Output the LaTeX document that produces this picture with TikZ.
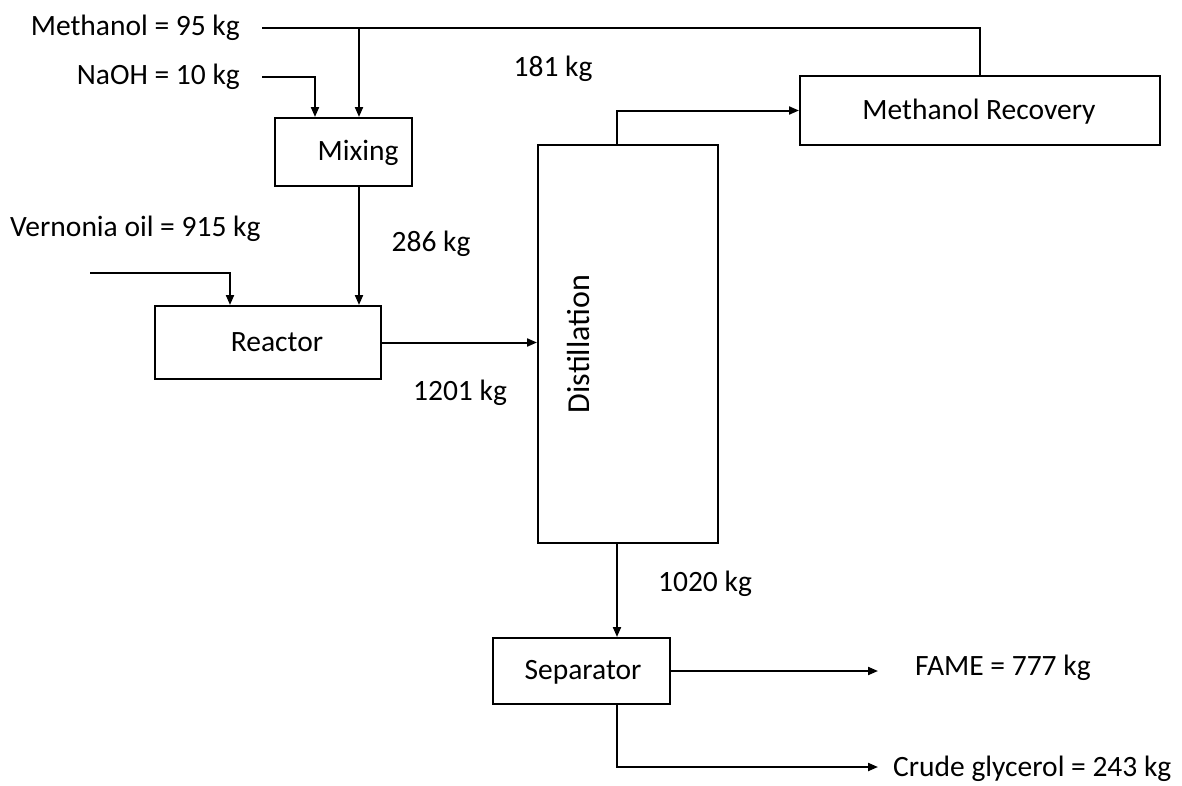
\documentclass[tikz,border=0pt]{standalone}
\usepackage{fontspec}
\setmainfont{Carlito}
\usetikzlibrary{arrows.meta}
\begin{document}
\begin{tikzpicture}[x=1pt,y=-1pt,
  every node/.style={font=\fontsize{29.5}{35}\selectfont, inner sep=0pt},
  unit/.style={draw, line width=2pt, minimum width=#1},
  arr/.style={-{Triangle[length=10pt,width=8pt]}, line width=2pt},
  ln/.style={line width=2pt}]
\useasboundingbox (0,0) rectangle (1182,785);
% boxes
\node[unit=137pt, minimum height=68pt] (mix) at (343.5,152) {};
\node[anchor=mid] (mixT) at (358,158) {Mixing};
\node[unit=226pt, minimum height=73pt] (rea) at (268,342.5) {};
\node[anchor=mid] (reaT) at (277,349) {Reactor};
\node[unit=180pt, minimum height=398pt] (dis) at (628,344) {};
\node[anchor=mid, rotate=90, font=\fontsize{32}{38}\selectfont] (disT) at (587,344) {Distillation};
\node[unit=360pt, minimum height=69pt] (mr) at (980,110.5) {};
\node[anchor=mid] (mrT) at (979,117) {Methanol Recovery};
\node[unit=177pt, minimum height=66pt] (sep) at (581.5,671) {};
\node[anchor=mid] (sepT) at (583,677) {Separator};
% coordinates
\coordinate (methIn) at (262,28);
\coordinate (j1) at (359,28);
\coordinate (naIn) at (262,77);
\coordinate (naC) at (315,0);
\coordinate (veIn) at (90,273);
\coordinate (veC) at (230,0);
\coordinate (dC) at (617,0);
\coordinate (fameEnd) at (878,0);
\coordinate (glyEnd) at (878,767);
% connectors
\draw[ln] (methIn) -| (mr.north);
\draw[arr] (j1) -- (j1 |- mix.north);
\draw[arr] (naIn) -| (naC |- mix.north);
\draw[arr] (j1 |- mix.south) -- (j1 |- rea.north);
\draw[arr] (veIn) -| (veC |- rea.north);
\draw[arr] (rea.east) -- (rea.east -| dis.west);
\draw[arr] (dC |- dis.north) |- (mr.west);
\draw[arr] (dC |- dis.south) -- (dC |- sep.north);
\draw[arr] (sep.east) -- (sep.east -| fameEnd);
\draw[arr] (dC |- sep.south) |- (glyEnd);
% labels
\node[anchor=mid east] (lMeth) at (240,33) {Methanol = 95 kg};
\node[anchor=mid east] (lNa) at (240,82) {NaOH = 10 kg};
\node[anchor=mid west] (lVe) at (10,234) {Vernonia oil = 915 kg};
\node[anchor=mid] (l181) at (553,74) {181 kg};
\node[anchor=mid] (l286) at (431,249) {286 kg};
\node[anchor=mid] (l1201) at (460,398) {1201 kg};
\node[anchor=mid] (l1020) at (705,589) {1020 kg};
\node[anchor=mid west] (lFame) at (915,673) {FAME = 777 kg};
\node[anchor=mid west] (lGly) at (893,774) {Crude glycerol = 243 kg};
\end{tikzpicture}
\end{document}
